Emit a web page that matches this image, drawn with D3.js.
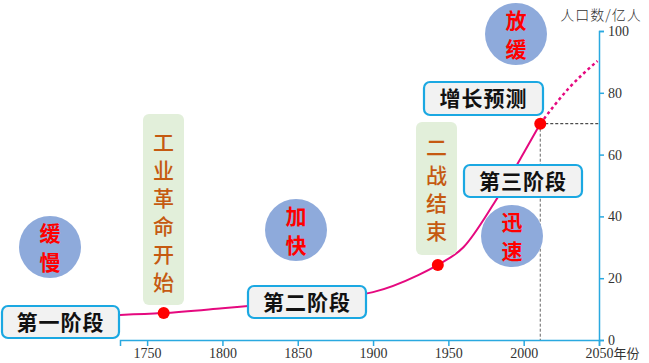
<!DOCTYPE html>
<html>
<head>
<meta charset="utf-8">
<script src="https://cdn.jsdelivr.net/npm/d3@7/dist/d3.min.js"></script>
<style>
  body { margin: 0; background: #fff; }
  svg { display: block; }
  text { font-family: "Noto Sans CJK SC", "Noto Sans", sans-serif; }
</style>
</head>
<body>
<svg id="chart" width="649" height="363"></svg>
<script>
// population history (亿人)
var years = [1732, 1760, 1800, 1850, 1900, 1930, 1943, 1960, 1980, 2000, 2011];
var population = [8.1, 8.7, 10.3, 12.6, 15.5, 21, 24.3, 30, 44, 60.5, 70];
// forecast part (dotted)
var forecastYears = [2011, 2030, 2049];
var forecastPop = [70, 81.5, 90.3];
// red marker dots
var markerYears = [1761, 1943, 2011];
var markerPop = [8.7, 24.3, 70];
// axis ticks
var xTicks = [1750, 1800, 1850, 1900, 1950, 2000, 2050];
var yTicks = [0, 20, 40, 60, 80, 100];
var stageLabels = ["第一阶段", "第二阶段", "第三阶段", "增长预测"];
var speedLabels = ["缓慢", "加快", "迅速", "放缓"];
var eventLabels = ["工业革命开始", "二战结束"];

var svg = d3.select("#chart");
var axisColor = "#2aa9e0";

var x = d3.scaleLinear().domain([1732, 2050]).range([120, 599]);
var y = d3.scaleLinear().domain([0, 100]).range([340, 31]);

// x axis
var xAxis = svg.append("g")
  .attr("transform", "translate(0,340)")
  .call(d3.axisBottom(x).tickValues(xTicks).tickSizeOuter(0).tickSize(6).tickFormat(function(d){ return d; }));
xAxis.select(".domain").attr("stroke", axisColor).attr("stroke-width", 1.5);
xAxis.selectAll(".tick line").attr("stroke", axisColor).attr("stroke-width", 1.5);
xAxis.selectAll(".tick text")
  .attr("fill", "#333").attr("font-size", 14).attr("dy", "0.75em").attr("y", 7)
  .style("font-family", "'Liberation Serif', serif");
xAxis.selectAll(".tick").filter(function(d){ return d === 2050; }).select("text")
  .attr("text-anchor", "start").attr("dx", -14)
  .text(null)
  .call(function(t){
    t.append("tspan").text("2050").style("font-family", "'Liberation Serif', serif");
    t.append("tspan").text("年份").style("font-family", "'Noto Sans CJK SC', sans-serif").attr("font-size", 13);
  });

// y axis on the right
var yAxis = svg.append("g")
  .attr("transform", "translate(599,0)")
  .call(d3.axisRight(y).tickValues(yTicks).tickSizeOuter(0).tickSize(5));
yAxis.select(".domain").attr("stroke", axisColor).attr("stroke-width", 1.5);
yAxis.selectAll(".tick line").attr("stroke", axisColor).attr("stroke-width", 1.5);
yAxis.selectAll(".tick text")
  .attr("fill", "#333").attr("font-size", 14).attr("x", 9)
  .style("font-family", "'Liberation Serif', serif");

svg.append("text")
  .attr("x", 601).attr("y", 20)
  .attr("text-anchor", "middle")
  .attr("font-size", 14).attr("fill", "#333")
  .attr("font-weight", 300)
  .attr("letter-spacing", 1)
  .text("人口数/亿人");

// guide lines for the 2011 point
var lastX = x(markerYears[2]), lastY = y(markerPop[2]);
svg.append("line")
  .attr("x1", lastX).attr("x2", 599).attr("y1", lastY).attr("y2", lastY)
  .attr("stroke", "#222").attr("stroke-width", 1).attr("stroke-dasharray", "3,2");
svg.append("line")
  .attr("x1", lastX).attr("x2", lastX).attr("y1", lastY).attr("y2", 340)
  .attr("stroke", "#666").attr("stroke-width", 1).attr("stroke-dasharray", "3,2");

// curves
var line = d3.line()
  .x(function(d){ return x(d[0]); })
  .y(function(d){ return y(d[1]); })
  .curve(d3.curveMonotoneX);

svg.append("path")
  .datum(d3.zip(years, population))
  .attr("d", line)
  .attr("fill", "none").attr("stroke", "#e5097f").attr("stroke-width", 2);

svg.append("path")
  .datum(d3.zip(forecastYears, forecastPop))
  .attr("d", line)
  .attr("fill", "none").attr("stroke", "#e5097f").attr("stroke-width", 2.5)
  .attr("stroke-dasharray", "3,3");

// event labels (green vertical boxes)
var events = [
  {text: eventLabels[0], x: 143, y: 114, w: 41, h: 191, cy0: 142},
  {text: eventLabels[1], x: 416, y: 122, w: 41, h: 133, cy0: 147}
];
events.forEach(function(e){
  svg.append("rect")
    .attr("x", e.x).attr("y", e.y).attr("width", e.w).attr("height", e.h)
    .attr("rx", 6).attr("fill", "#e2efda");
  var t = svg.append("text")
    .attr("text-anchor", "middle")
    .attr("font-size", 21).attr("font-weight", 500).attr("fill", "#c55a11");
  e.text.split("").forEach(function(c, i){
    t.append("tspan").attr("x", e.x + e.w / 2).attr("y", e.cy0 + i * 28).attr("dy", "0.36em").text(c);
  });
});

// marker dots
svg.selectAll("circle.marker")
  .data(d3.zip(markerYears, markerPop))
  .enter().append("circle")
  .attr("class", "marker")
  .attr("cx", function(d){ return x(d[0]); })
  .attr("cy", function(d){ return y(d[1]); })
  .attr("r", 6)
  .attr("fill", "#ff0000");

// stage boxes
var stages = [
  {text: stageLabels[0], x: 2, y: 306, w: 117, h: 32},
  {text: stageLabels[1], x: 248, y: 286, w: 118, h: 32},
  {text: stageLabels[2], x: 464, y: 165, w: 118, h: 32},
  {text: stageLabels[3], x: 424, y: 82, w: 119, h: 33}
];
stages.forEach(function(s){
  svg.append("rect")
    .attr("x", s.x).attr("y", s.y).attr("width", s.w).attr("height", s.h)
    .attr("rx", 6).attr("fill", "#f2f2f2")
    .attr("stroke", "#1ba8e2").attr("stroke-width", 2.2);
  svg.append("text")
    .attr("x", s.x + s.w / 2).attr("y", s.y + s.h / 2).attr("dy", "0.36em")
    .attr("text-anchor", "middle")
    .attr("font-size", 21).attr("font-weight", "bold").attr("fill", "#111")
    .attr("letter-spacing", 1)
    .text(s.text);
});

// speed circles
var speeds = [
  {text: speedLabels[0], cx: 50, cy: 247, r: 31},
  {text: speedLabels[1], cx: 296, cy: 230, r: 31},
  {text: speedLabels[2], cx: 512, cy: 236, r: 31},
  {text: speedLabels[3], cx: 516, cy: 34, r: 31}
];
speeds.forEach(function(s){
  svg.append("circle")
    .attr("cx", s.cx).attr("cy", s.cy).attr("r", s.r)
    .attr("fill", "#8eaadb");
  var t = svg.append("text")
    .attr("text-anchor", "middle")
    .attr("font-size", 21).attr("font-weight", "bold").attr("fill", "#ff0000");
  s.text.split("").forEach(function(c, i){
    t.append("tspan").attr("x", s.cx).attr("y", s.cy - 14 + i * 29).attr("dy", "0.36em").text(c);
  });
});
</script>
</body>
</html>
